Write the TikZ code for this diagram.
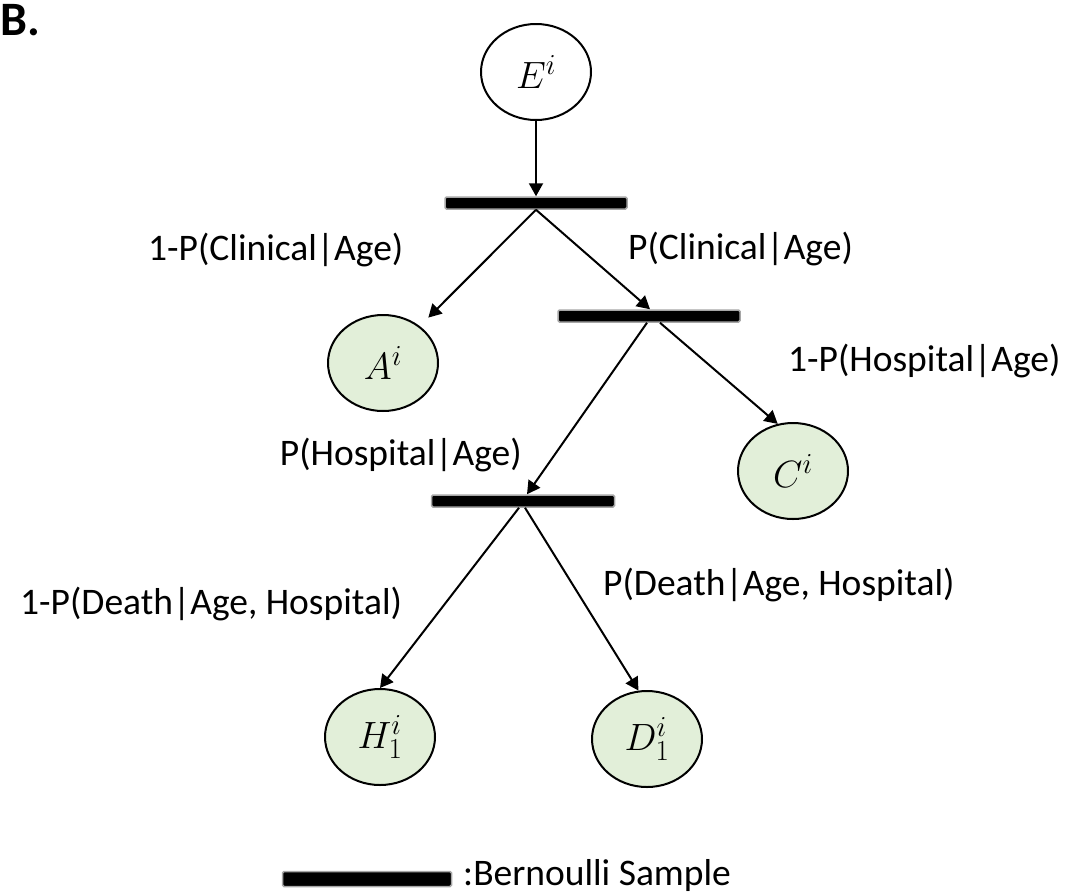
\RequirePackage{fix-cm}
\documentclass[tikz,border=0pt]{standalone}
\usepackage{fontspec}
\setmainfont{Carlito}
\usetikzlibrary{arrows.meta,shapes.geometric,calc}
\DeclareMathSizes{38}{38}{29}{22}
\definecolor{nodegreen}{HTML}{E2EFD9}
\tikzset{
  state/.style={ellipse,draw=black,line width=2pt,minimum width=110pt,minimum height=96pt,inner sep=0pt,font=\fontsize{38}{45}\selectfont},
  greenstate/.style={state,fill=nodegreen},
  bern/.style={rectangle,fill=black,draw=black!35,line width=1.5pt,rounded corners=1.5pt,minimum height=12pt,inner sep=0pt},
  lab/.style={inner sep=0pt,anchor=base west,font=\fontsize{37.5}{45}\selectfont},
  conn/.style={line width=2pt,-{Triangle[length=13pt,width=14pt]}}
}
\begin{document}
\begin{tikzpicture}[x=1pt,y=-1pt]
\useasboundingbox (0,0) rectangle (1068,895);
\node[inner sep=0pt,anchor=base west,font=\fontsize{48}{56}\selectfont\bfseries] (title) at (0,35) {B.};
% nodes
\node[state] (E) at (536,72) {$E^{i}$};
\node[bern,minimum width=182pt] (b1) at (536,203) {};
\node[greenstate] (A) at (383,363) {$A^{i}$};
\node[bern,minimum width=182pt] (b2) at (649,316) {};
\node[greenstate] (C) at (793,471) {$C^{i}$};
\node[bern,minimum width=183pt] (b3) at (523,501) {};
\node[greenstate] (H) at (380,737) {$H_{1}^{i}$};
\node[greenstate] (D) at (647,739) {$D_{1}^{i}$};
\node[bern,minimum width=169pt,minimum height=15pt] (legbar) at (367,879) {};
% labels
\node[lab] (l1) at (148,260) {1-P(Clinical|Age)};
\node[lab] (l2) at (628,259) {P(Clinical|Age)};
\node[lab] (l3) at (788,371) {1-P(Hospital|Age)};
\node[lab,anchor=base east] (l4) at (522,465) {P(Hospital|Age)};
\node[lab] (l5) at (20,614) {1-P(Death|Age, Hospital)};
\node[lab] (l6) at (603,595) {P(Death|Age, Hospital)};
\node[lab] (leg) at (463,885) {:Bernoulli Sample};
% connectors
\draw[conn] (E.south) -- (b1.north);
\draw[conn,shorten >=12pt] (b1.south) -- (A);
\draw[conn] (b1.south) -- ($(b2.north)+(1,0)$);
\draw[conn] ($(b2.south)+(11,0)$) -- (C.108);
\draw[conn] ($(b2.south)+(-2,0)$) -- ($(b3.north)+(4,0)$);
\draw[conn] ($(b3.south)+(-4,0)$) -- (H.north);
\draw[conn] ($(b3.south)+(2,0)$) -- (D.100);
\end{tikzpicture}
\end{document}
